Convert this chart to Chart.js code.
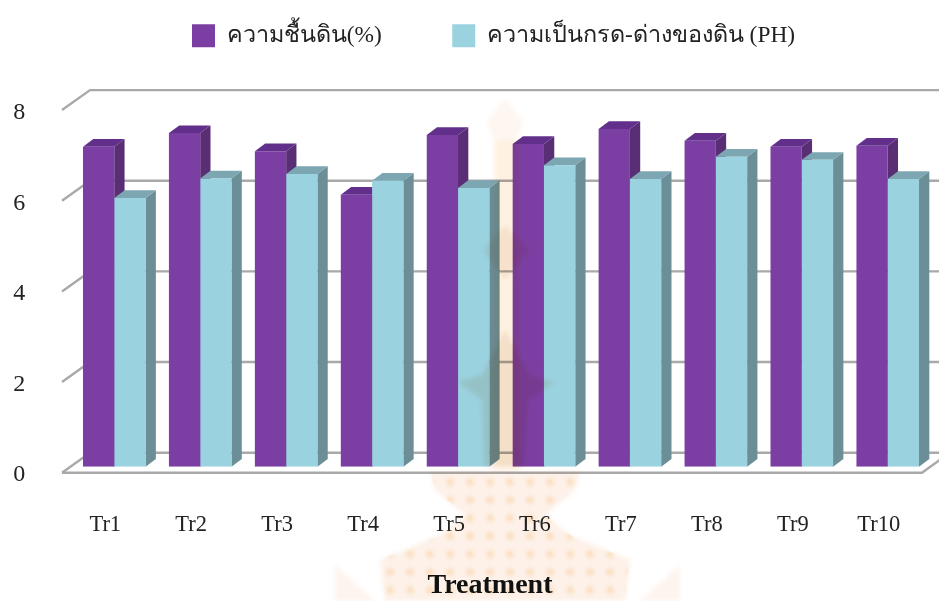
<!DOCTYPE html>
<html lang="th">
<head>
<meta charset="utf-8">
<title>Treatment</title>
<style>
  html, body { margin: 0; background: #fff; overflow: hidden; }
  canvas { display: block; }
</style>
<script src="https://cdn.jsdelivr.net/npm/chart.js@4"></script>
</head>
<body>
<canvas id="soilChart" width="939" height="601"></canvas>
<script>
  const treatments = ['Tr1', 'Tr2', 'Tr3', 'Tr4', 'Tr5', 'Tr6', 'Tr7', 'Tr8', 'Tr9', 'Tr10'];
  const moisture = [7.06, 7.36, 6.96, 6.00, 7.32, 7.12, 7.45, 7.19, 7.06, 7.08];
  const ph = [5.93, 6.36, 6.46, 6.31, 6.15, 6.65, 6.35, 6.84, 6.77, 6.35];
  const yTicks = [0, 2, 4, 6, 8];

  const moistureLabel = 'ความชื้นดิน(%)';
  const phLabel = 'ความเป็นกรด-ด่างของดิน (PH)';
  const xTitle = 'Treatment';

  const serif = "'Liberation Serif', 'Times New Roman', serif";
  const textColor = '#222222';
  const wallColor = '#a9a9a9';

  // bar depth and the offsets that place the back wall behind the bars
  const barDepthX = 10.3;
  const barDepthY = 7.7;
  const wallBackY = -14;
  const wallFrontY = 6;
  const wallLeft = 90;
  const floorLeft = 62;

  function face(ctx, color, pts) {
    ctx.fillStyle = color;
    ctx.beginPath();
    pts.forEach(([x, y], i) => (i ? ctx.lineTo(x, y) : ctx.moveTo(x, y)));
    ctx.closePath();
    ctx.fill();
  }

  // side and top faces go down first, series by series, so a later series covers
  // the side of the bar next to it; the front faces are then drawn by Chart.js
  const barDepth = {
    id: 'barDepth',
    beforeDatasetsDraw(chart) {
      const { ctx } = chart;
      chart.data.datasets.forEach((ds, index) => {
        chart.getDatasetMeta(index).data.forEach(bar => {
          const { x, y, width, base } = bar.getProps(['x', 'y', 'width', 'base'], true);
          const r = x + width / 2;
          const l = x - width / 2;
          const dx = barDepthX, dy = barDepthY;
          face(ctx, ds.sideColor, [[r, y], [r + dx, y - dy], [r + dx, base - dy], [r, base]]);
          face(ctx, ds.topColor, [[l, y], [l + dx, y - dy], [r + dx, y - dy], [r, y]]);
        });
      });
    },
  };

  // back wall grid lines, their left stubs and the floor outline
  const wall = {
    id: 'wall',
    beforeDatasetsDraw(chart) {
      const { ctx, width } = chart;
      const yScale = chart.scales.y;
      ctx.save();
      ctx.strokeStyle = wallColor;
      ctx.lineWidth = 2.4;
      yTicks.forEach(v => {
        const py = yScale.getPixelForValue(v);
        ctx.beginPath();
        ctx.moveTo(floorLeft, py + wallFrontY);
        ctx.lineTo(wallLeft, py + wallBackY);
        ctx.lineTo(width, py + wallBackY);
        ctx.stroke();
      });
      const floorY = yScale.getPixelForValue(0) + wallFrontY;
      ctx.beginPath();
      ctx.moveTo(floorLeft, floorY);
      ctx.lineTo(922, floorY);
      ctx.lineTo(950, floorY - 20);
      ctx.stroke();
      ctx.restore();
    },
  };

  // the legend is wider apart than the built-in centring allows, so it gets moved here
  const legendPlacement = {
    id: 'legendPlacement',
    afterLayout(chart) {
      chart.legend.left = 121.5;
      chart.legend.top = -46.5;
    },
  };

  const xAxisTitle = {
    id: 'xAxisTitle',
    afterDraw(chart) {
      const { ctx } = chart;
      ctx.save();
      ctx.fillStyle = '#111111';
      ctx.font = `bold 28px ${serif}`;
      ctx.textAlign = 'center';
      ctx.textBaseline = 'middle';
      ctx.fillText(xTitle, 490, 586);
      ctx.restore();
    },
  };

  // faint crest printed across the page, multiplied over everything
  const crest = {
    id: 'crest',
    afterDraw(chart) {
      const { ctx } = chart;
      ctx.save();
      ctx.globalCompositeOperation = 'multiply';
      ctx.filter = 'blur(2px)';
      face(ctx, '#fef6f0', [[505, 98], [523, 122], [516, 140], [520, 470], [490, 470], [494, 140], [487, 122]]);
      face(ctx, '#fffaf0', [[495, 140], [520, 140], [520, 470], [495, 470]]);
      face(ctx, '#f7f0e8', [[505, 225], [530, 250], [505, 280], [483, 250]]);
      face(ctx, '#f5ece2', [[505, 330], [530, 375], [555, 382], [528, 400], [525, 466], [484, 466], [482, 400], [458, 382], [482, 375]]);
      face(ctx, '#fef4ee', [[335, 565], [375, 601], [335, 601]]);
      face(ctx, '#fef4ee', [[680, 565], [640, 601], [680, 601]]);
      const base = [[430, 472], [580, 472], [575, 490], [545, 515], [570, 535], [630, 560], [625, 601],
        [385, 601], [380, 560], [440, 535], [465, 515], [435, 490]];
      face(ctx, '#fdf1e9', base);
      ctx.clip();
      ctx.fillStyle = '#fde8c8';
      for (let y = 482; y < 601; y += 18) {
        for (let x = 380; x < 640; x += 20) {
          ctx.beginPath();
          ctx.arc(x + (y % 36 ? 10 : 0), y, 3.5, 0, Math.PI * 2);
          ctx.fill();
        }
      }
      ctx.restore();
    },
  };

  new Chart(document.getElementById('soilChart'), {
    type: 'bar',
    data: {
      labels: treatments,
      datasets: [
        {
          label: moistureLabel,
          data: moisture,
          backgroundColor: '#7b3fa3',
          topColor: '#62308a',
          sideColor: '#5a2e75',
        },
        {
          label: phLabel,
          data: ph,
          backgroundColor: '#9bd2e0',
          topColor: '#7ca6b2',
          sideColor: '#6b8e97',
        },
      ],
    },
    options: {
      responsive: false,
      animation: false,
      events: [],
      categoryPercentage: 0.728,
      barPercentage: 1,
      layout: { autoPadding: false, padding: { top: 0.2, right: 8.3, left: 0, bottom: 0 } },
      plugins: {
        tooltip: { enabled: false },
        legend: {
          position: 'top',
          align: 'start',
          labels: {
            boxWidth: 23,
            boxHeight: 23,
            padding: 70.5,
            color: textColor,
            font: { family: serif, size: 23.4 },
          },
        },
      },
      scales: {
        x: {
          grid: { display: false, drawTicks: false },
          border: { display: false },
          afterFit(scale) {
            scale.height = 134.3;
            scale.paddingLeft = 0;
            scale.paddingRight = 0;
          },
          ticks: {
            color: textColor,
            font: { family: serif, size: 22.5 },
            padding: 45,
            labelOffset: -9,
            maxRotation: 0,
            autoSkip: false,
          },
        },
        y: {
          min: 0,
          max: 8,
          grid: { display: false, drawTicks: false },
          border: { display: false },
          afterFit(scale) { scale.width = 71.3; },
          afterBuildTicks(scale) { scale.ticks = yTicks.map(value => ({ value })); },
          ticks: {
            color: textColor,
            font: { family: serif, size: 24 },
            padding: 46,
            labelOffset: 8.5,
          },
        },
      },
    },
    plugins: [legendPlacement, wall, barDepth, xAxisTitle, crest],
  });
</script>
</body>
</html>
